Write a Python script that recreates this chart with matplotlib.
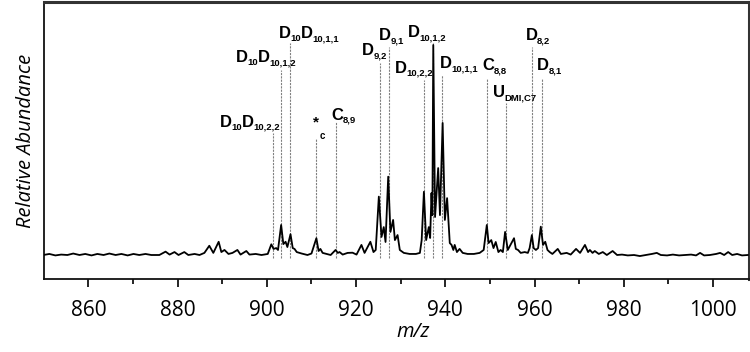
import matplotlib
matplotlib.use('Agg')
import matplotlib.pyplot as plt
from matplotlib.ticker import MultipleLocator
from matplotlib.transforms import offset_copy

# ---- spectrum trace (m/z, relative abundance) ----
mz = [849.9, 851.25, 852.6, 853.9, 855.3, 856.6, 858.0, 859.3, 860.7, 862.0,
      863.4, 864.7, 866.1, 867.4, 868.8, 870.1, 871.4, 872.8, 874.1, 875.9,
      877.3, 878.2, 879.3, 880.2, 881.5, 882.4, 883.8, 884.9, 886.0, 887.1,
      888.0, 889.2, 889.8, 890.5, 891.4, 892.3, 893.4, 894.1, 895.4, 896.1,
      897.5, 898.8, 900.2, 901.0, 901.5, 902.1, 902.5, 903.2, 903.7, 904.2,
      904.6, 905.3, 905.8, 906.2, 906.7, 907.8, 909.1, 910.0, 911.1, 911.6,
      912.0, 912.5, 913.4, 914.3, 915.4, 915.9, 916.3, 917.0, 918.1, 919.2,
      920.1, 921.2, 921.9, 923.2, 923.9, 924.4, 925.1, 925.7, 926.2, 926.6,
      927.2, 927.7, 928.3, 928.7, 929.3, 929.8, 930.7, 932.0, 933.4, 934.3,
      934.7, 935.2, 935.7, 936.3, 936.6, 936.9, 937.1, 937.3, 937.7, 938.4,
      938.8, 939.4, 939.9, 940.4, 941.0, 941.4, 941.8, 942.1, 942.6, 943.2,
      943.9, 945.0, 946.4, 947.7, 948.6, 949.3, 949.7, 950.3, 950.8, 951.3,
      951.9, 952.4, 952.9, 953.4, 954.0, 954.6, 955.4, 955.8, 956.3, 956.9,
      957.8, 958.5, 958.9, 959.4, 959.8, 960.3, 960.8, 961.4, 961.9, 962.4,
      962.9, 963.4, 964.0, 965.2, 965.9, 967.2, 968.1, 969.3, 970.2, 971.3,
      972.0, 972.4, 973.0, 973.5, 974.4, 975.3, 976.2, 977.5, 978.5, 979.6,
      980.9, 982.3, 983.6, 985.0, 986.3, 987.4, 988.3, 989.7, 991.0, 992.4,
      993.7, 995.1, 996.2, 997.1, 998.0, 999.3, 1000.7, 1001.6, 1002.5, 1003.4,
      1004.3, 1005.4, 1006.5, 1007.8]
intensity = [0, 0.5, -0.2, 0.2, 0, 0.7, 0, 0.5, -0.2, 0.5,
             0, 0.7, 0, 0.5, -0.2, 0.5, 0, 0.5, 0, 0,
             1.6, 0.2, 1.4, 0, 1.4, 0, 0.5, 0, 1.0, 4.4,
             1.0, 6.3, 1.4, 2.4, 0.5, 1.0, 2.4, 0.2, 1.9, 0.2,
             0.5, 0, 0.5, 5.1, 2.9, 3.3, 2.4, 14.3, 5.2, 6.3,
             3.8, 9.9, 3.3, 2.9, 1.4, 0.7, 0, 0.7, 8.0, 1.9,
             2.9, 1.0, 0.5, 0, 2.4, 1.0, 1.4, 0.2, 1.0, 1.1,
             0.2, 4.8, 1.0, 6.3, 1.4, 2.4, 27.8, 8.6, 13.3, 6.2,
             37.3, 11.0, 16.7, 7.1, 9.5, 2.4, 1.0, 0.5, 0.5, 1.0,
             7.1, 30.1, 7.1, 13.3, 8.1, 29.5, 19.0, 100.0, 18.1, 41.4,
             19.0, 62.9, 16.7, 27.1, 5.7, 4.8, 2.4, 4.8, 1.4, 2.9,
             1.0, 0.5, 0.5, 1.0, 2.4, 14.3, 5.7, 7.1, 3.3, 6.2,
             1.4, 2.4, 1.4, 11.0, 2.4, 4.8, 8.0, 2.9, 2.4, 1.0,
             1.4, 1.0, 3.3, 9.5, 3.3, 2.4, 3.3, 13.5, 4.8, 6.3,
             2.4, 1.4, 0.5, 2.9, 0.5, 1.0, 0.2, 2.9, 1.0, 4.8,
             1.4, 2.4, 1.0, 1.9, 0.5, 1.4, 0, 1.9, 0, 0.2,
             -0.2, 0, -0.5, 0, 0.5, 1.0, 0, -0.2, 0.2, -0.2,
             0, 0.2, -0.2, 1.0, -0.2, 0, 0.5, 1.0, 0, 1.4,
             0, 0.5, -0.2, 0]

# ---- annotated peaks: marker line position and height ----
peak_mz = [901.3, 903.2, 905.2, 911.1, 915.4, 925.3, 927.3, 935.2, 937.3,
           939.3, 949.4, 953.5, 959.5, 961.6]
peak_top = [58.1, 88.1, 101.0, 55.7, 63.3, 91.4, 99.0, 83.3, 101.0,
            85.7, 84.3, 72.4, 99.0, 84.3]

# ---- peak labels: (text, is_subscript) segments ----
label_segments = [
    [("D", 0), ("10", 1), ("D", 0), ("10,2,2", 1)],
    [("D", 0), ("10", 1), ("D", 0), ("10,1,2", 1)],
    [("D", 0), ("10", 1), ("D", 0), ("10,1,1", 1)],
    [("C", 0), ("8,9", 1)],
    [("D", 0), ("9,2", 1)],
    [("D", 0), ("9,1", 1)],
    [("D", 0), ("10,1,2", 1)],
    [("D", 0), ("10,2,2", 1)],
    [("D", 0), ("10,1,1", 1)],
    [("C", 0), ("8,8", 1)],
    [("U", 0), ("DMI,C7", 1)],
    [("D", 0), ("8,2", 1)],
    [("D", 0), ("8,1", 1)],
]
label_x = [889.4, 893.0, 902.6, 914.5, 921.3, 925.1, 931.5, 928.7, 938.8,
           948.2, 950.6, 958.0, 960.5]
label_y = [61.0, 91.9, 103.3, 64.3, 95.2, 102.4, 103.8, 86.7, 89.0,
           88.1, 75.2, 102.4, 88.1]

x_ticks = [860, 880, 900, 920, 940, 960, 980, 1000]

fig = plt.figure(figsize=(7.5, 3.52), dpi=100)
ax = fig.add_axes([44 / 750, 1 - 279 / 352, (748.7 - 44) / 750, (279 - 2) / 352])

ax.plot(mz, intensity, color='black', lw=1.3, zorder=3)
ax.vlines(peak_mz, -1.4, peak_top, colors='#808080', lw=0.8,
          linestyles=(0, (2.0, 1.0)), zorder=2)

ax.set_xlim(850.05, 1008.0)
ax.set_ylim(-11.43, 120.5)
ax.set_yticks([])
ax.set_xticks(x_ticks)
ax.xaxis.set_minor_locator(MultipleLocator(10))
ax.tick_params(axis='x', which='major', length=6, width=1.2, direction='out',
               pad=9, labelsize=15)
ax.tick_params(axis='x', which='minor', length=3.5, width=1.2, direction='out')
for lab in ax.get_xticklabels():
    lab.set_family('Open Sans')

for side in ['left', 'bottom']:
    ax.spines[side].set_linewidth(1.3)
    ax.spines[side].set_color('#111111')
for side in ['top', 'right']:
    ax.spines[side].set_linewidth(2.2)
    ax.spines[side].set_color('#333333')

ax.set_xlabel('m/z', fontsize=14.5, style='italic', family='Open Sans',
              x=(413 - 44) / (748.7 - 44), labelpad=1)
ax.set_ylabel('Relative Abundance', fontsize=14.5, style='italic',
              family='Open Sans', labelpad=6)

renderer = fig.canvas.get_renderer()


def draw_label(x, y, segs):
    dx = 0.0
    for s, sub in segs:
        tr = offset_copy(ax.transData, fig=fig, x=dx, y=(-3.0 if sub else 0.0),
                         units='dots')
        t = ax.text(x, y, s, transform=tr, fontsize=(6.8 if sub else 12),
                    fontweight='bold', family='Liberation Sans',
                    ha='left', va='baseline', zorder=4)
        bb = t.get_window_extent(renderer)
        dx += bb.width - (0.5 if not sub else 0.0)


for segs, x, y in zip(label_segments, label_x, label_y):
    draw_label(x, y, segs)

ax.text(911.1, 62.9, '*', fontsize=11, fontweight='bold', family='Liberation Sans',
        ha='center', va='center')
ax.text(912.4, 56.7, 'c', fontsize=7, fontweight='bold', family='Liberation Sans',
        ha='center', va='center')

fig.savefig('out.png', dpi=100)
